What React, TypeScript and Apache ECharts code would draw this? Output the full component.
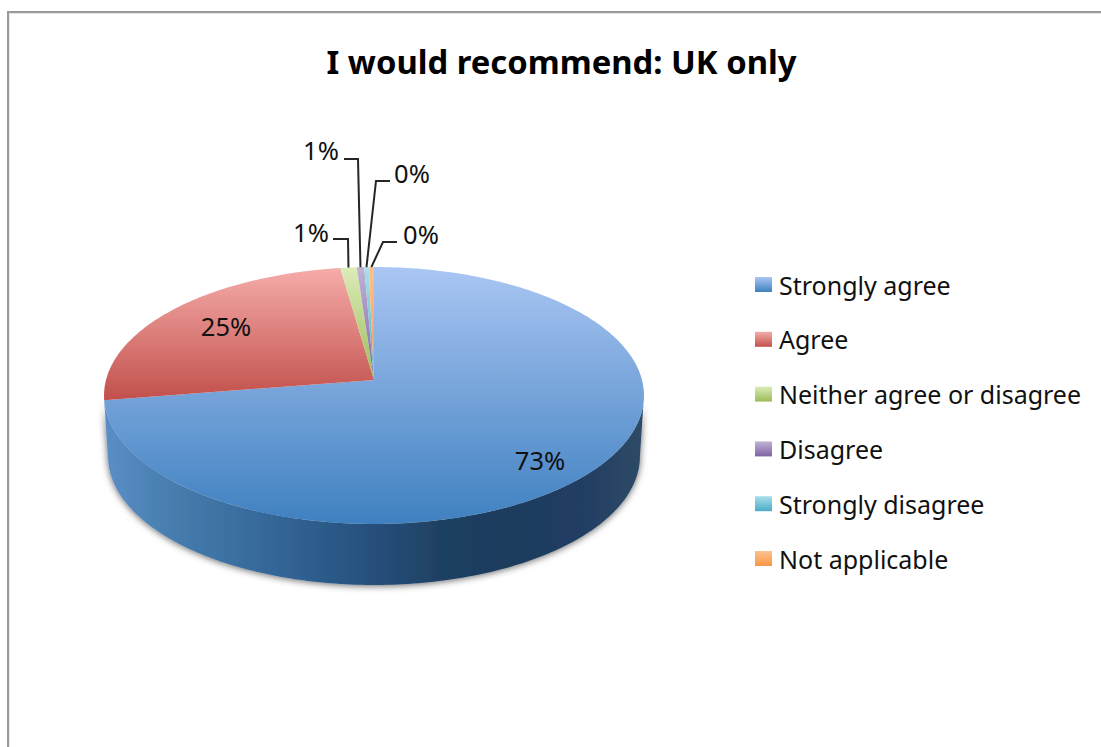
import React, { useEffect, useRef } from "react";
import * as echarts from "echarts";

const categories = ["Strongly agree", "Agree", "Neither agree or disagree", "Disagree", "Strongly disagree", "Not applicable"];
const values = [72.5, 25.25, 1.1, 0.5, 0.3, 0.35];
const topColors = ["#aac6f3", "#f5aca9", "#dcecb8", "#c0b2d6", "#a9dfea", "#fcc28e"];
const bottomColors = ["#3f80c0", "#c2504c", "#9bbb59", "#8064a2", "#4bacc6", "#f79646"];
const wallStops = ["#5b8fc7", "#477dae", "#3a6ea0", "#2e5f8f", "#264f7c", "#1f4062", "#1c3c5c", "#213d64", "#2e4a66"];

const FONT = "'Noto Sans', sans-serif";
const CX = 374, APEX_Y = 380, A = 268, B = 126.6, K = 0.1206, DEPTH = 61, BOTTOM_SCALE = 0.985;

// Label anchors and leader-line elbows; null leader means the label sits on the slice.
const labelPos: [number, number][] = [[540, 460], [226, 326], [311, 232], [321, 150], [412, 173], [421, 234]];
const leaders: ([number, number][] | null)[] = [
  null, null,
  [[333, 239], [348, 239]],
  [[344, 159], [358, 159]],
  [[390, 181], [376, 181]],
  [[397, 242], [383, 242]],
];

function project(theta: number, wall: boolean): [number, number] {
  const u = Math.sin(theta), v = -Math.cos(theta);
  const d = 1 - K * v;
  const s = wall ? BOTTOM_SCALE : 1;
  return [CX + (A * s * u) / d, APEX_Y + (B * v) / d + (wall ? DEPTH : 0)];
}

const total = values.reduce((a, b) => a + b, 0);
const starts = values.map((_, i) => values.slice(0, i).reduce((a, b) => a + b, 0));
const toAngle = (x: number) => (x / total) * Math.PI * 2;
const FRONT_A = Math.PI / 2 + Math.asin(K); // rightmost outline point
const FRONT_B = 1.5 * Math.PI - Math.asin(K); // leftmost outline point

function arc(a0: number, a1: number, wall: boolean) {
  const n = Math.max(2, Math.ceil(((a1 - a0) * 180) / Math.PI));
  const pts: [number, number][] = [];
  for (let i = 0; i <= n; i++) pts.push(project(a0 + ((a1 - a0) * i) / n, wall));
  return pts;
}

const vgrad = (i: number) =>
  new echarts.graphic.LinearGradient(0, 0, 0, 1, [
    { offset: 0, color: topColors[i] },
    { offset: 1, color: bottomColors[i] },
  ]);

function renderWall(i: number) {
  const a0 = toAngle(starts[i]);
  const a1 = toAngle(starts[i] + values[i]);
  const w0 = Math.max(a0, FRONT_A), w1 = Math.min(a1, FRONT_B);
  if (w1 <= w0) return null;
  return {
    type: "polygon",
    shape: { points: [...arc(w0, w1, false), ...arc(w0, w1, true).reverse()] },
    style: {
      fill: new echarts.graphic.LinearGradient(
        104, 0, 644, 0,
        wallStops.map((c, k) => ({ offset: k / (wallStops.length - 1), color: c })),
        true,
      ),
      shadowBlur: 7,
      shadowColor: "rgba(0,0,0,0.6)",
      shadowOffsetY: 1,
    },
  };
}

function renderSlice(i: number) {
  return () => {
    const a0 = toAngle(starts[i]);
    const a1 = toAngle(starts[i] + values[i]);
    const children: any[] = [];
    const wall = renderWall(i);
    if (wall) children.push(wall);
    children.push({
      type: "polygon",
      shape: { points: [[CX, APEX_Y], ...arc(a0, a1, false)] },
      style: { fill: vgrad(i) },
    });
    return { type: "group", children };
  };
}

function renderLabel(i: number) {
  const mid = toAngle(starts[i] + values[i] / 2);
  const children: any[] = [];
  const lead = leaders[i];
  if (lead) {
    children.push({
      type: "polyline",
      shape: { points: [...lead, project(mid, false)] },
      style: { stroke: "#262626", lineWidth: 2, fill: "none" },
    });
  }
  children.push({
    type: "text",
    style: {
      text: Math.round((values[i] / total) * 100) + "%",
      x: labelPos[i][0],
      y: labelPos[i][1],
      align: "center",
      verticalAlign: "middle",
      textAlign: "center",
      textVerticalAlign: "middle",
      fill: "#111",
      fontSize: 25.5,
      fontFamily: FONT,
    },
  });
  return { type: "group", children };
}

export default function App() {
  const ref = useRef<HTMLDivElement>(null);
  useEffect(() => {
    const chart = echarts.init(ref.current!, undefined, { renderer: "svg" });
    chart.setOption({
      animation: false,
      backgroundColor: "#ffffff",
      title: {
        text: "I would recommend: UK only",
        left: 561.5,
        top: 45,
        padding: 0,
        textAlign: "center",
        textStyle: { fontSize: 32.8, fontWeight: "bold", color: "#000", fontFamily: FONT },
      },
      legend: {
        orient: "vertical",
        left: 755,
        top: 272,
        padding: 0,
        itemWidth: 17,
        itemHeight: 15,
        itemGap: 29.8,
        icon: "rect",
        data: categories,
        textStyle: { fontSize: 25, color: "#111", fontFamily: FONT, padding: [5, 0, 0, 2] },
        selectedMode: false,
      },
      graphic: [
        { type: "polyline", silent: true, shape: { points: [[8, 747], [8, 12], [1101, 12]] }, style: { stroke: "#9a9a9a", lineWidth: 2, fill: "none" } },
        { type: "polyline", silent: true, shape: { points: [[9.5, 747], [9.5, 13.5], [1101, 13.5]] }, style: { stroke: "#e6e6e6", lineWidth: 1, fill: "none" } },
      ],
      series: [
        ...categories.map((name, i) => ({
          type: "custom",
          name,
          coordinateSystem: "none",
          itemStyle: { color: vgrad(i) },
          data: [[values[i]]],
          renderItem: renderSlice(i),
          z: 2,
        })),
        {
          type: "custom",
          name: "labels",
          coordinateSystem: "none",
          data: values.map((v) => [v]),
          renderItem: (params: any) => renderLabel(params.dataIndex),
          z: 5,
        },
      ],
    });
    return () => chart.dispose();
  }, []);
  return <div ref={ref} style={{ position: "fixed", left: 0, top: 0, width: 1101, height: 747 }} />;
}
